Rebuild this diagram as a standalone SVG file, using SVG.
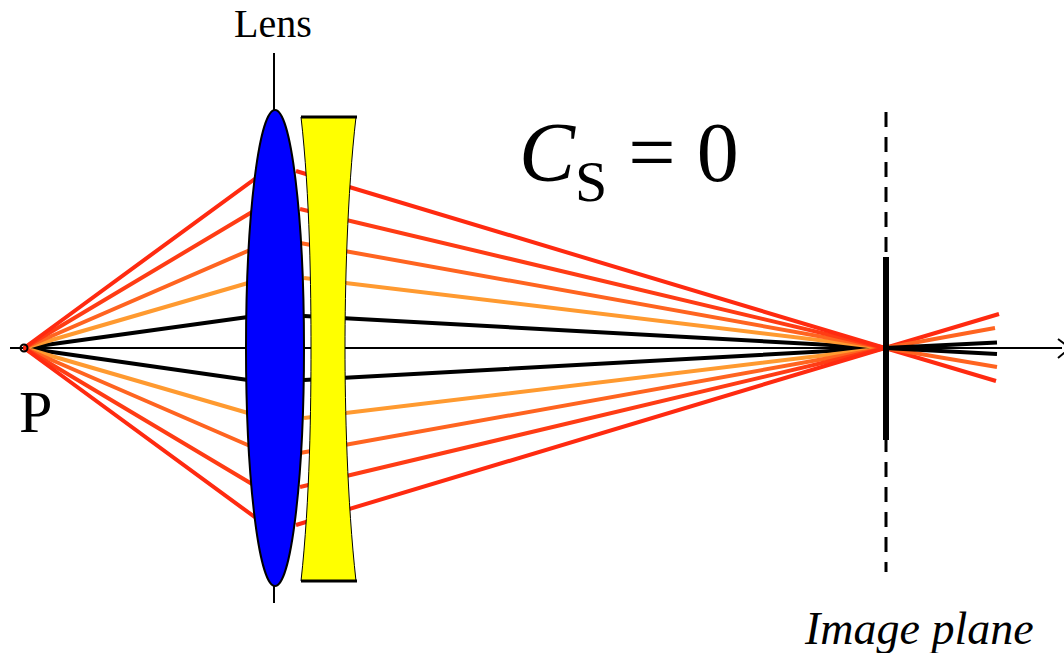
<svg xmlns="http://www.w3.org/2000/svg" width="1064" height="653" viewBox="0 0 1064 653">
<style>
text{font-family:"Liberation Serif","Times New Roman",serif;fill:#000}
.ray{fill:none;stroke-width:4}
.r1{stroke:#ff2a10}
.r2{stroke:#ff3c14}
.r3{stroke:#ff6420}
.r4{stroke:#ff9a30}
.k{stroke:#000}
.thin{fill:none;stroke:#000;stroke-width:2}
</style>
<rect width="1064" height="653" fill="#fff"/>
<g id="connectors">
<path id="axis" class="thin" d="M10 348H1062"/>
<path id="axis-arrow" fill="none" stroke="#000" stroke-width="2" d="M1058 339L1070 348L1058 358"/>
<path id="lens-axis" class="thin" d="M274 53V603"/>
<g id="rays-after">
<path class="ray r1" d="M885 348L999 314M885 348L996 381"/>
<path class="ray r3" d="M885 348L995 328M885 348L997 367"/>
<path class="ray k" d="M885 348L997 342.500M885 348L997 354"/>
</g>
<g id="rays-black">
<path class="ray k" d="M24 348L248 317M304 316L885 348M24 348L248 380M304 380L885 348"/>
</g>
<g id="rays-light-orange">
<path class="ray r4" d="M24 348L248 283M304 278L885 348M24 348L248 413M304 418L885 348"/>
</g>
<g id="rays-orange">
<path class="ray r3" d="M24 348L250 250M300 243L885 348M24 348L250 446M300 453L885 348"/>
</g>
<g id="rays-red-2">
<path class="ray r2" d="M24 348L252 212M300 209L885 348M24 348L252 484M300 487L885 348"/>
</g>
<g id="rays-red-1">
<path class="ray r1" d="M24 348L256 178M296 171L885 348M24 348L256 518M296 525L885 348"/>
</g>
</g>
<g id="point-p">
<circle cx="24" cy="348" r="3.500" fill="none" stroke="#000" stroke-width="2"/>
<text x="19" y="432" font-size="60">P</text>
</g>
<g id="lens-blue">
<ellipse cx="275" cy="348" rx="29" ry="238" fill="#0000ff" stroke="#000" stroke-width="2"/>
</g>
<g id="lens-yellow">
<path d="M301 117C310 195 311 290 311 348C311 406 310 500 301 581H356C347 500 345 406 345 348C345 290 347 195 356 117Z" fill="#ffff00" stroke="#000" stroke-width="1"/>
<path class="thin" style="stroke-width:3" d="M301 117H357M301 581H357"/>
</g>
<g id="lens-label"><text x="273" y="37" font-size="40" text-anchor="middle">Lens</text></g>
<g id="formula">
<text x="519" y="181" font-size="84"><tspan font-style="italic">C</tspan><tspan font-size="58" dy="20">S</tspan><tspan dy="-20"> = 0</tspan></text>
</g>
<g id="image-plane">
<path fill="none" stroke="#000" stroke-width="3" stroke-dasharray="15 10" d="M886 112V572"/>
<path fill="none" stroke="#000" stroke-width="6" d="M886 257V440"/>
<text x="805" y="644" font-size="46" font-style="italic">Image plane</text>
</g>
</svg>
